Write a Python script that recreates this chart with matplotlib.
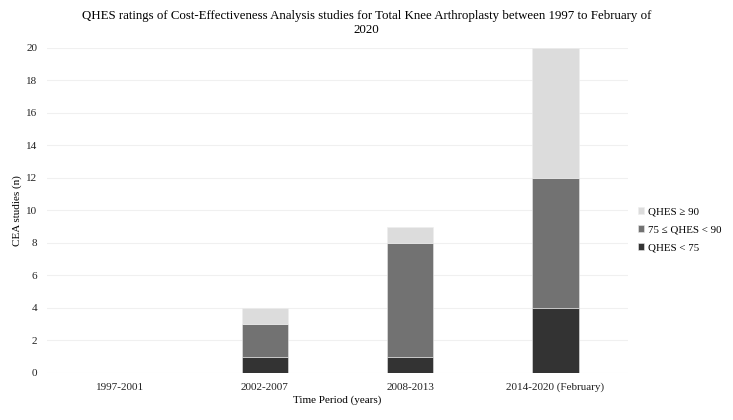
import matplotlib
matplotlib.use("Agg")
import matplotlib.pyplot as plt
import numpy as np

plt.rcParams["font.family"] = ["Liberation Serif", "DejaVu Serif"]

periods = ["1997-2001", "2002-2007", "2008-2013", "2014-2020 (February)"]
qhes_low = [0, 1, 1, 4]    # QHES < 75
qhes_mid = [0, 2, 7, 8]    # 75 <= QHES < 90
qhes_high = [0, 1, 1, 8]   # QHES >= 90

c_low, c_mid, c_high = "#333333", "#727272", "#dcdcdc"

fig = plt.figure(figsize=(7.33, 4.2), dpi=100)
ax = fig.add_axes([0.064, 0.112, 0.793, 0.774])

x = np.arange(len(periods))
w = 0.32
low = np.array(qhes_low)
mid = np.array(qhes_mid)
high = np.array(qhes_high)
b1 = ax.bar(x, low, w, color=c_low, edgecolor="#e8e8e8", linewidth=0.4, label="QHES < 75", zorder=3)
b2 = ax.bar(x, mid, w, bottom=low, color=c_mid, edgecolor="#e8e8e8", linewidth=0.4,
            label="75 ≤ QHES < 90", zorder=3)
b3 = ax.bar(x, high, w, bottom=low + mid, color=c_high, edgecolor="#eeeeee", linewidth=0.4,
            label="QHES ≥ 90", zorder=3)

ax.set_xlim(-0.5, len(periods) - 0.5)
ax.set_ylim(0, 20)
ax.set_yticks(range(0, 21, 2))
ax.set_xticks(x)
ax.set_xticklabels(periods)
ax.grid(axis="y", color="#f0f0f0", linewidth=0.8, zorder=0)
for s in ax.spines.values():
    s.set_visible(False)
ax.tick_params(length=0, labelsize=8, colors="#222222")
ax.tick_params(axis="y", pad=7)
ax.tick_params(axis="x", pad=7)

ax.set_xlabel("Time Period (years)", fontsize=8, labelpad=2)
ax.set_ylabel("CEA studies (n)", fontsize=8)
ax.yaxis.set_label_coords(-0.043, 0.5)

fig.text(0.5, 0.945, "QHES ratings of Cost-Effectiveness Analysis studies for Total Knee Arthroplasty between 1997 to February of\n2020",
         ha="center", va="center", fontsize=9.25, linespacing=1.2)

handles = [b3, b2, b1]
ax.legend(handles, [h.get_label() for h in handles], loc="center left",
          bbox_to_anchor=(1.0, 0.44), frameon=False, fontsize=7.8,
          handlelength=0.6, handleheight=0.6, handletextpad=0.3, labelspacing=0.8)

fig.savefig("out.png", dpi=100)
